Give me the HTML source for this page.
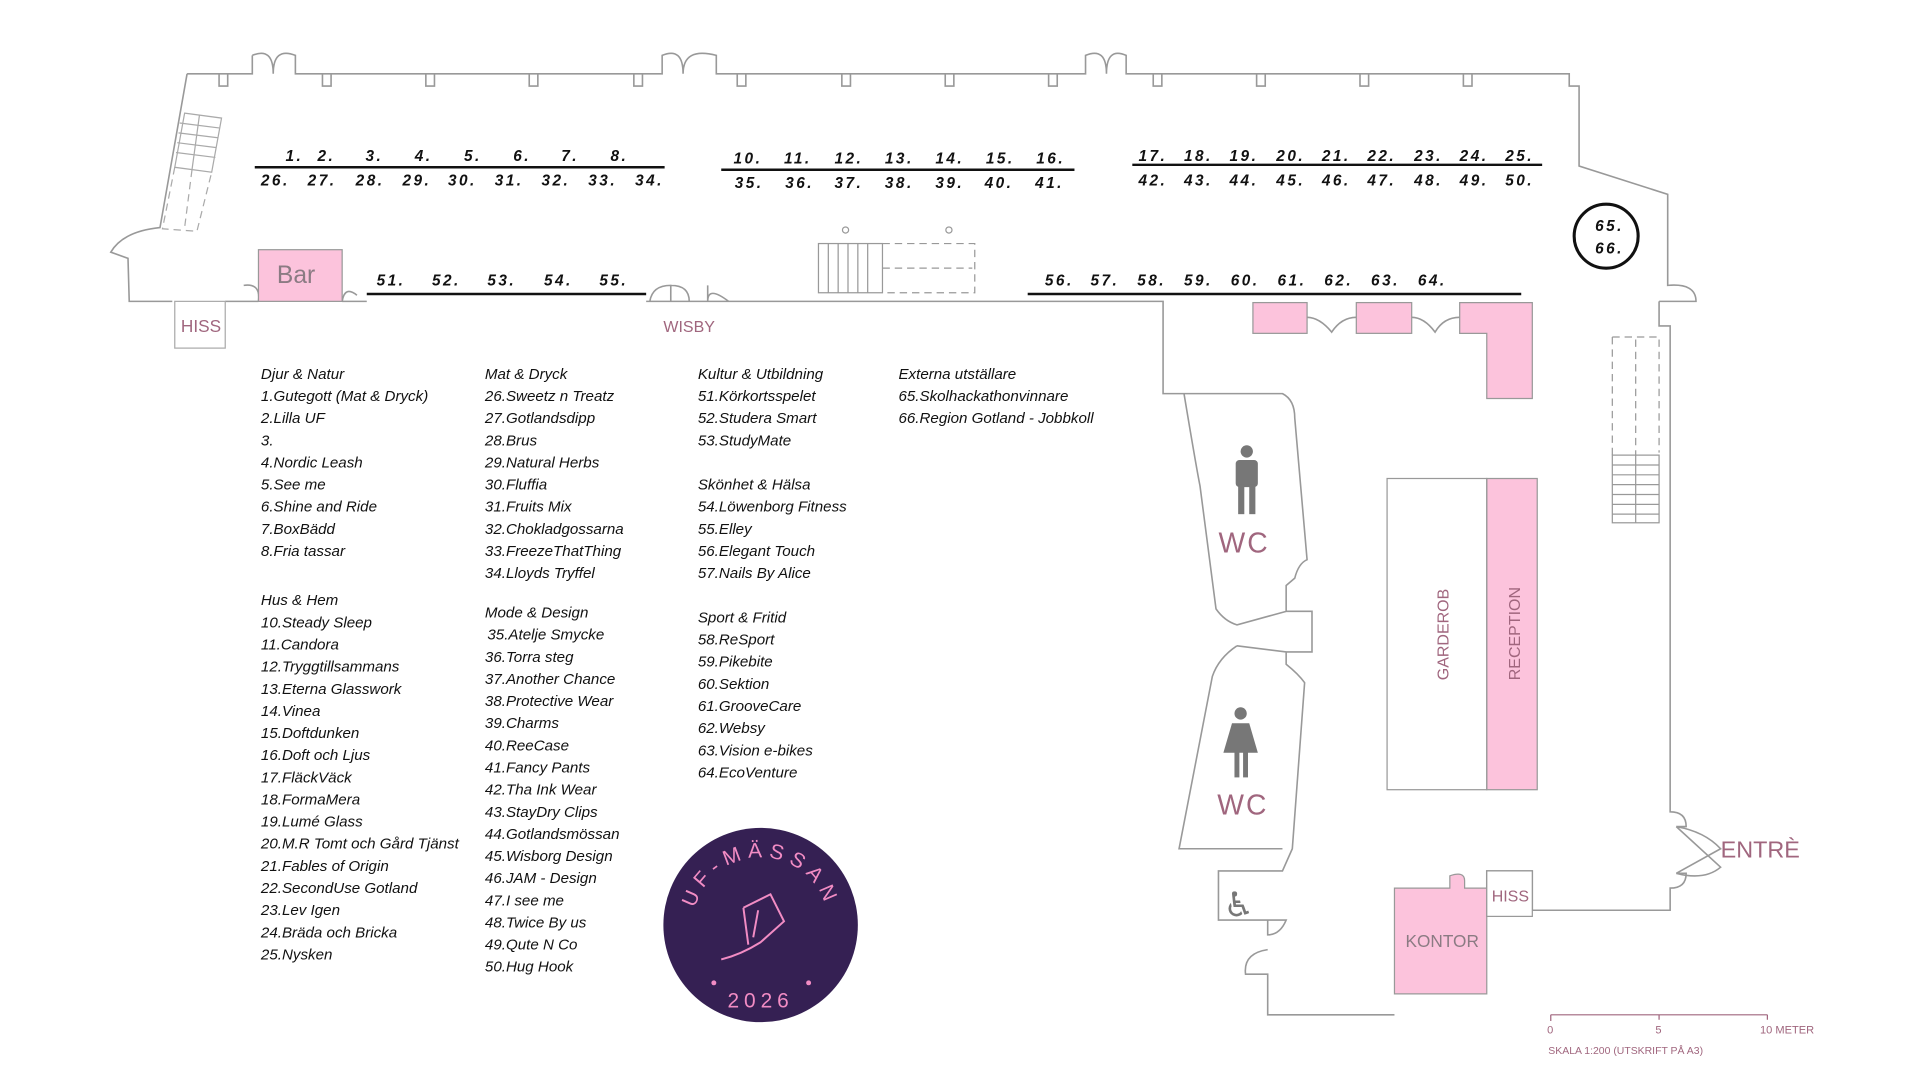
<!DOCTYPE html>
<html><head><meta charset="utf-8"><style>
html,body{margin:0;padding:0;background:#fff;}
svg{display:block;}
.n{font-family:"Liberation Sans",sans-serif;font-style:italic;font-size:12.5px;letter-spacing:2px;fill:#111;font-weight:bold;}
.l{font-family:"Liberation Sans","DejaVu Sans",sans-serif;font-style:italic;font-size:12.3px;fill:#111;}
.p{font-family:"Liberation Sans",sans-serif;fill:#a0667e;}
.w{fill:none;stroke:#999;stroke-width:1.3;}
</style></head><body>
<svg width="1920" height="1080" viewBox="0 0 1560 878" preserveAspectRatio="none" xmlns="http://www.w3.org/2000/svg">
<rect width="1560" height="878" fill="#fff"/>
<path class="w" d="M152,60 L205,60 L205,45 M205,45 Q222,38 222,60 Q222,38 240,45 L240,60 L538,60 L538,45 Q555,38 555,60 Q555,38 582,45 L582,60 L882,60 L882,45 Q899,38 899,60 Q899,38 915,45 L915,60 L1275,60 L1275,70 L1283,70 L1283,135 L1355,158 L1355,232 Q1378,230 1378,245 L1348,245"/>
<path class="w" d="M152,60 L130,185 Q100,188 90,205 L104,210 L105,245 L140,245"/>
<path class="w" d="M183,245 L210,245 M278,245 L298,245 M525,245 L945,245 L945,300"/>
<path class="w" d="M210,245 Q212,230 198,232 M278,245 Q280,232 290,240"/>
<path class="w" d="M528,245 Q530,232 545,232 L545,245 M545,232 Q560,232 560,245 M575,232 L575,245 Q575,232 592,245"/>
<g class="w">
<path d="M178,60v10h7v-10M262,60v10h7v-10M346,60v10h7v-10M430,60v10h7v-10M515,60v10h7v-10M599,60v10h7v-10M684,60v10h7v-10M768,60v10h7v-10M852,60v10h7v-10M937,60v10h7v-10M1021,60v10h7v-10M1105,60v10h7v-10M1189,60v10h7v-10"/>
</g>
<g stroke="#aaa" stroke-width="1" fill="none">
<path d="M150,92 L180,96 L172,140 L142,136 Z M146,100 L178,104 M145,108 L177,112 M144,116 L176,120 M143,124 L175,128 M162,94 L156,138"/>
<path d="M142,136 L132,186 L160,188 L172,140 M156,138 L150,185" stroke-dasharray="6,4"/>
</g>
<rect x="142" y="245" width="41" height="38" fill="none" stroke="#aaa"/>
<text x="147" y="270" class="p" font-size="14">HISS</text>
<rect x="210" y="203" width="68" height="42" fill="#fcc3dc" stroke="#999"/>
<text x="225" y="230" font-family="Liberation Sans" font-size="20" fill="#8b7b83">Bar</text>
<text x="539" y="270" class="p" font-size="13">WISBY</text>
<g stroke="#999" stroke-width="1" fill="none">
<rect x="665" y="198" width="52" height="40"/>
<path d="M673,198v40M681,198v40M689,198v40M697,198v40M705,198v40"/>
<path d="M717,198 L792,198 L792,238 L717,238 M717,218 L790,218" stroke-dasharray="6,4"/>
<circle cx="687" cy="187" r="2.5"/><circle cx="771" cy="187" r="2.5"/>
</g>
<g stroke="#111" stroke-width="2">
<line x1="207" y1="136" x2="540" y2="136"/>
<line x1="586" y1="138" x2="873" y2="138"/>
<line x1="920" y1="134" x2="1253" y2="134"/>
<line x1="298" y1="239" x2="525" y2="239"/>
<line x1="835" y1="239" x2="1236" y2="239"/>
</g>
<g class="n">
<text x="232" y="131">1.</text><text x="258" y="131">2.</text><text x="297" y="131">3.</text><text x="337" y="131">4.</text><text x="377" y="131">5.</text><text x="417" y="131">6.</text><text x="456" y="131">7.</text><text x="496" y="131">8.</text>
<text x="212" y="151">26.</text><text x="250" y="151">27.</text><text x="289" y="151">28.</text><text x="327" y="151">29.</text><text x="364" y="151">30.</text><text x="402" y="151">31.</text><text x="440" y="151">32.</text><text x="478" y="151">33.</text><text x="516" y="151">34.</text>
<text x="596" y="133">10.</text><text x="637" y="133">11.</text><text x="678" y="133">12.</text><text x="719" y="133">13.</text><text x="760" y="133">14.</text><text x="801" y="133">15.</text><text x="842" y="133">16.</text>
<text x="597" y="153">35.</text><text x="638" y="153">36.</text><text x="678" y="153">37.</text><text x="719" y="153">38.</text><text x="760" y="153">39.</text><text x="800" y="153">40.</text><text x="841" y="153">41.</text>
<text x="925" y="131">17.</text><text x="962" y="131">18.</text><text x="999" y="131">19.</text><text x="1037" y="131">20.</text><text x="1074" y="131">21.</text><text x="1111" y="131">22.</text><text x="1149" y="131">23.</text><text x="1186" y="131">24.</text><text x="1223" y="131">25.</text>
<text x="925" y="151">42.</text><text x="962" y="151">43.</text><text x="999" y="151">44.</text><text x="1037" y="151">45.</text><text x="1074" y="151">46.</text><text x="1111" y="151">47.</text><text x="1149" y="151">48.</text><text x="1186" y="151">49.</text><text x="1223" y="151">50.</text>
<text x="306" y="232">51.</text><text x="351" y="232">52.</text><text x="396" y="232">53.</text><text x="442" y="232">54.</text><text x="487" y="232">55.</text>
<text x="849" y="232">56.</text><text x="886" y="232">57.</text><text x="924" y="232">58.</text><text x="962" y="232">59.</text><text x="1000" y="232">60.</text><text x="1038" y="232">61.</text><text x="1076" y="232">62.</text><text x="1114" y="232">63.</text><text x="1152" y="232">64.</text>
</g>
<circle cx="1305" cy="192" r="26" fill="none" stroke="#111" stroke-width="2.5"/>
<text x="1296" y="188" class="n" letter-spacing="0" font-size="12">65.</text>
<text x="1296" y="206" class="n" letter-spacing="0" font-size="12">66.</text>
<g fill="#fcc3dc" stroke="#999">
<rect x="1018" y="246" width="44" height="25"/>
<rect x="1102" y="246" width="45" height="25"/>
<path d="M1186,246 L1245,246 L1245,324 L1208,324 L1208,271 L1186,271 Z"/>
<rect x="1208" y="389" width="41" height="253"/>
<path d="M1133,722 L1178,722 L1178,712 Q1190,708 1190,716 L1190,722 L1208,722 L1208,808 L1133,808 Z"/>
</g>
<path class="w" d="M1062,258 Q1072,258 1082,270 Q1090,258 1102,258 M1147,258 Q1157,258 1166,270 Q1173,258 1186,258"/>
<rect x="1127" y="389" width="81" height="253" fill="none" stroke="#999"/>
<text transform="translate(1177,553) rotate(-90)" class="p" font-size="13">GARDEROB</text>
<text transform="translate(1235,553) rotate(-90)" class="p" font-size="13" fill="#8b6b7b">RECEPTION</text>
<path class="w" d="M1348,245 L1348,265 L1357,265 L1357,660 Q1370,660 1370,672 L1362,672 M1362,710 L1370,710 Q1370,722 1357,722 L1357,740 L1245,740 L1245,708 L1208,708 L1208,722"/>
<path class="w" d="M1362,672 Q1385,676 1398,690 L1362,710 M1362,672 L1398,705 Q1385,716 1362,710"/>
<rect x="1208" y="708" width="37" height="37" fill="#fff" stroke="#999"/>
<text x="1212" y="733" class="p" font-size="13">HISS</text>
<text x="1142" y="770" font-family="Liberation Sans" font-size="14" fill="#8b7b83">KONTOR</text>
<text x="1398" y="697" class="p" font-size="19">ENTRÈ</text>
<g stroke="#999" stroke-width="1" fill="none">
<path d="M1310,274 L1348,274 L1348,368 M1310,274 L1310,370 M1329,276 L1329,370" stroke-dasharray="6,4"/>
<rect x="1310" y="370" width="38" height="55"/><path d="M1310,378h38M1310,386h38M1310,394h38M1310,402h38M1310,410h38M1310,418h38M1329,370v55"/>
</g>
<path class="w" d="M945,300 L945,320 L1042,320 Q1052,325 1052,340 L1062,455 Q1055,458 1052,470 L1045,476 L1045,497 L1066,497 L1066,530 L1045,530 L1045,540 Q1055,548 1060,555 L1050,690 L1042,708 L990,708 L990,748 L1030,748 L1030,760 Q1040,760 1045,748 L1030,748 M1030,772 Q1010,775 1012,792 L1030,792 L1030,825 L1133,825 M962,320 Q972,380 975,395 L988,495 Q995,505 1005,508 L1045,497 M1005,525 L1045,530 M1005,525 Q990,535 985,550 L958,690 L1042,690"/>
<g fill="#777">
<circle cx="1013" cy="367" r="5"/><rect x="1004" y="374" width="18" height="22" rx="3"/><rect x="1006" y="394" width="5" height="24"/><rect x="1015" y="394" width="5" height="24"/>
<circle cx="1008" cy="580" r="5"/><path d="M1001,588 L1015,588 L1022,612 L994,612 Z"/><rect x="1003" y="610" width="4" height="22"/><rect x="1010" y="610" width="4" height="22"/>
</g>
<text x="990" y="449" class="p" font-size="23" font-weight="normal" textLength="40">WC</text>
<text x="989" y="662" class="p" font-size="23" textLength="40">WC</text>
<text x="994" y="745" font-family="DejaVu Sans" font-size="28" fill="#777">♿</text>
<g class="l">
<text x="212" y="308">Djur &amp; Natur</text><text x="212" y="326">1.Gutegott (Mat &amp; Dryck)</text><text x="212" y="344">2.Lilla UF</text><text x="212" y="362">3.</text><text x="212" y="380">4.Nordic Leash</text><text x="212" y="398">5.See me</text><text x="212" y="416">6.Shine and Ride</text><text x="212" y="434">7.BoxBädd</text><text x="212" y="452">8.Fria tassar</text>
<text x="212" y="492">Hus &amp; Hem</text><text x="212" y="510">10.Steady Sleep</text><text x="212" y="528">11.Candora</text><text x="212" y="546">12.Tryggtillsammans</text><text x="212" y="564">13.Eterna Glasswork</text><text x="212" y="582">14.Vinea</text><text x="212" y="600">15.Doftdunken</text><text x="212" y="618">16.Doft och Ljus</text><text x="212" y="636">17.FläckVäck</text><text x="212" y="654">18.FormaMera</text><text x="212" y="672">19.Lumé Glass</text><text x="212" y="690">20.M.R Tomt och Gård Tjänst</text><text x="212" y="708">21.Fables of Origin</text><text x="212" y="726">22.SecondUse Gotland</text><text x="212" y="744">23.Lev Igen</text><text x="212" y="762">24.Bräda och Bricka</text><text x="212" y="780">25.Nysken</text>
<text x="394" y="308">Mat &amp; Dryck</text><text x="394" y="326">26.Sweetz n Treatz</text><text x="394" y="344">27.Gotlandsdipp</text><text x="394" y="362">28.Brus</text><text x="394" y="380">29.Natural Herbs</text><text x="394" y="398">30.Fluffia</text><text x="394" y="416">31.Fruits Mix</text><text x="394" y="434">32.Chokladgossarna</text><text x="394" y="452">33.FreezeThatThing</text><text x="394" y="470">34.Lloyds Tryffel</text>
<text x="394" y="502">Mode &amp; Design</text><text x="396" y="520">35.Atelje Smycke</text><text x="394" y="538">36.Torra steg</text><text x="394" y="556">37.Another Chance</text><text x="394" y="574">38.Protective Wear</text><text x="394" y="592">39.Charms</text><text x="394" y="610">40.ReeCase</text><text x="394" y="628">41.Fancy Pants</text><text x="394" y="646">42.Tha Ink Wear</text><text x="394" y="664">43.StayDry Clips</text><text x="394" y="682">44.Gotlandsmössan</text><text x="394" y="700">45.Wisborg Design</text><text x="394" y="718">46.JAM - Design</text><text x="394" y="736">47.I see me</text><text x="394" y="754">48.Twice By us</text><text x="394" y="772">49.Qute N Co</text><text x="394" y="790">50.Hug Hook</text>
<text x="567" y="308">Kultur &amp; Utbildning</text><text x="567" y="326">51.Körkortsspelet</text><text x="567" y="344">52.Studera Smart</text><text x="567" y="362">53.StudyMate</text>
<text x="567" y="398">Skönhet &amp; Hälsa</text><text x="567" y="416">54.Löwenborg Fitness</text><text x="567" y="434">55.Elley</text><text x="567" y="452">56.Elegant Touch</text><text x="567" y="470">57.Nails By Alice</text>
<text x="567" y="506">Sport &amp; Fritid</text><text x="567" y="524">58.ReSport</text><text x="567" y="542">59.Pikebite</text><text x="567" y="560">60.Sektion</text><text x="567" y="578">61.GrooveCare</text><text x="567" y="596">62.Websy</text><text x="567" y="614">63.Vision e-bikes</text><text x="567" y="632">64.EcoVenture</text>
<text x="730" y="308">Externa utställare</text><text x="730" y="326">65.Skolhackathonvinnare</text><text x="730" y="344">66.Region Gotland - Jobbkoll</text>
</g>
<circle cx="618" cy="752" r="79" fill="#352053"/>
<defs><path id="arc" d="M563,752 A55,55 0 0 1 673,752"/></defs>
<text font-family="Liberation Sans" font-size="17" fill="#f28cc4" letter-spacing="5"><textPath href="#arc" startOffset="50%" text-anchor="middle">UF-MÄSSAN</textPath></text>
<text x="618" y="819" text-anchor="middle" font-family="Liberation Sans" font-size="17" fill="#f28cc4" letter-spacing="4">2026</text>
<circle cx="580" cy="799" r="2" fill="#f28cc4"/><circle cx="657" cy="799" r="2" fill="#f28cc4"/>
<path d="M604,738 L626,727 L637,749 L618,766 Q602,776 586,780 M604,738 L608,768 M616,740 L612,762" fill="none" stroke="#f28cc4" stroke-width="1.6"/>
<g stroke="#a0667e" stroke-width="1" fill="none"><path d="M1260,830 V825 M1260,825 H1436 M1348,825 v4 M1436,825 v4"/></g>
<text x="1257" y="840" class="p" font-size="9">0</text><text x="1345" y="840" class="p" font-size="9">5</text><text x="1430" y="840" class="p" font-size="9">10 METER</text>
<text x="1258" y="857" class="p" font-size="8.5">SKALA 1:200 (UTSKRIFT PÅ A3)</text>
</svg>
</body></html>
